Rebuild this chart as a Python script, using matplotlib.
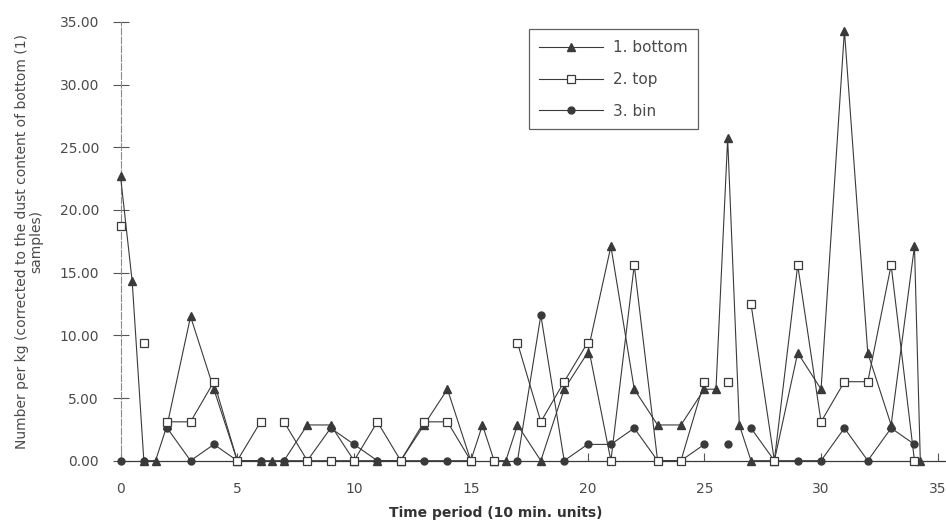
import numpy as np
import matplotlib
matplotlib.use("Agg")
import matplotlib.pyplot as plt

nan = np.nan

# time periods (10 min. units); half steps only sampled for the bottom series
time = [0, 0.5, 1, 1.5, 2, 3, 4, 5, 6, 6.5, 7, 8, 9, 10, 11, 12, 13, 14, 15, 15.5,
        16, 16.5, 17, 18, 19, 20, 21, 22, 23, 24, 25, 25.5, 26, 26.5, 27, 28, 29,
        30, 31, 32, 33, 34, 34.25]

bottom = [22.7, 14.3, 0, 0, 2.85, 11.5, 5.7, 0, 0, 0, 0, 2.85, 2.85, 0, 0, 0, 2.85,
          5.7, 0, 2.85, 0, 0, 2.85, 0, 5.7, 8.6, 17.1, 5.7, 2.85, 2.85, 5.7, 5.7,
          25.7, 2.85, 0, 0, 8.6, 5.7, 34.3, 8.6, 2.85, 17.1, 0]

top = [18.75, nan, 9.4, nan, 3.1, 3.1, 6.3, 0, 3.1, nan, 3.1, 0, 0, 0, 3.1, 0, 3.1,
       3.1, 0, nan, 0, nan, 9.4, 3.1, 6.3, 9.4, 0, 15.6, 0, 0, 6.3, nan, 6.3, nan,
       12.5, 0, 15.6, 3.1, 6.3, 6.3, 15.6, 0, nan]

bin_ = [0, nan, 0, nan, 2.6, 0, 1.3, 0, 0, nan, 0, 0, 2.6, 1.3, 0, 0, 0, 0, 0, nan,
        0, nan, 0, 11.6, 0, 1.3, 1.3, 2.6, 0, 0, 1.3, nan, 1.3, nan, 2.6, 0, 0, 0,
        2.6, 0, 2.6, 1.3, nan]

labels = ["1. bottom", "2. top", "3. bin"]
xticks = [0, 5, 10, 15, 20, 25, 30, 35]
yticks = [0, 5, 10, 15, 20, 25, 30, 35]

ink = "#3a3a3a"
txt = "#4a4a4a"

plt.rcParams['font.family'] = ['DejaVu Sans']

fig = plt.figure(figsize=(9.46, 5.22), dpi=100)
ax = fig.add_axes([120.5 / 946, 61.3 / 522, 825.5 / 946, 438.9 / 522])

ax.plot(time, bottom, color=ink, lw=0.8, marker="^", ms=5.5, mfc=ink, mec=ink,
        label=labels[0], clip_on=False, zorder=3)
ax.plot(time, top, color=ink, lw=0.8, marker="s", ms=6, mfc="white", mec=ink,
        mew=0.9, label=labels[1], clip_on=False, zorder=4)
ax.plot(time, bin_, color=ink, lw=0.8, marker="o", ms=5, mfc=ink, mec=ink,
        label=labels[2], clip_on=False, zorder=3)

ax.set_xlim(0, 35.35)
ax.set_ylim(0, 35)
ax.set_xticks(xticks)
ax.set_yticks(yticks)
ax.set_yticklabels([f"{v:.2f}" for v in yticks])

for s in ["top", "right"]:
    ax.spines[s].set_visible(False)
ax.spines["left"].set_color("#8a8a8a")
ax.spines["left"].set_linewidth(0.8)
ax.spines["left"].set_linestyle((0, (6, 2)))
ax.spines["bottom"].set_color(ink)
ax.spines["bottom"].set_linewidth(0.9)

ax.tick_params(axis="y", direction="inout", length=11, width=0.8, color="#555555",
               labelsize=10, labelcolor=txt, pad=10)
ax.tick_params(axis="x", direction="in", length=6, width=0.8, color="#555555",
               labelsize=10, labelcolor=txt, pad=15)

ax.set_xlabel("Time period (10 min. units)", fontsize=10, color="#333333",
              fontweight="bold")
ax.xaxis.set_label_coords(0.455, -0.104)
ax.set_ylabel("Number per kg (corrected to the dust content of bottom (1)\nsamples)",
              fontsize=10, color=txt, multialignment="center", linespacing=1.1)
ax.yaxis.set_label_coords(-0.093, 0.5)

leg = ax.legend(loc="upper left", bbox_to_anchor=(0.485, 1.0), frameon=True,
                fancybox=False, edgecolor=ink, fontsize=11, handlelength=4.2,
                labelspacing=1.1, borderpad=0.7, handletextpad=0.6)
leg.get_frame().set_linewidth(0.9)
for t in leg.get_texts():
    t.set_color(txt)

fig.savefig("out.png", dpi=100, facecolor="white")
